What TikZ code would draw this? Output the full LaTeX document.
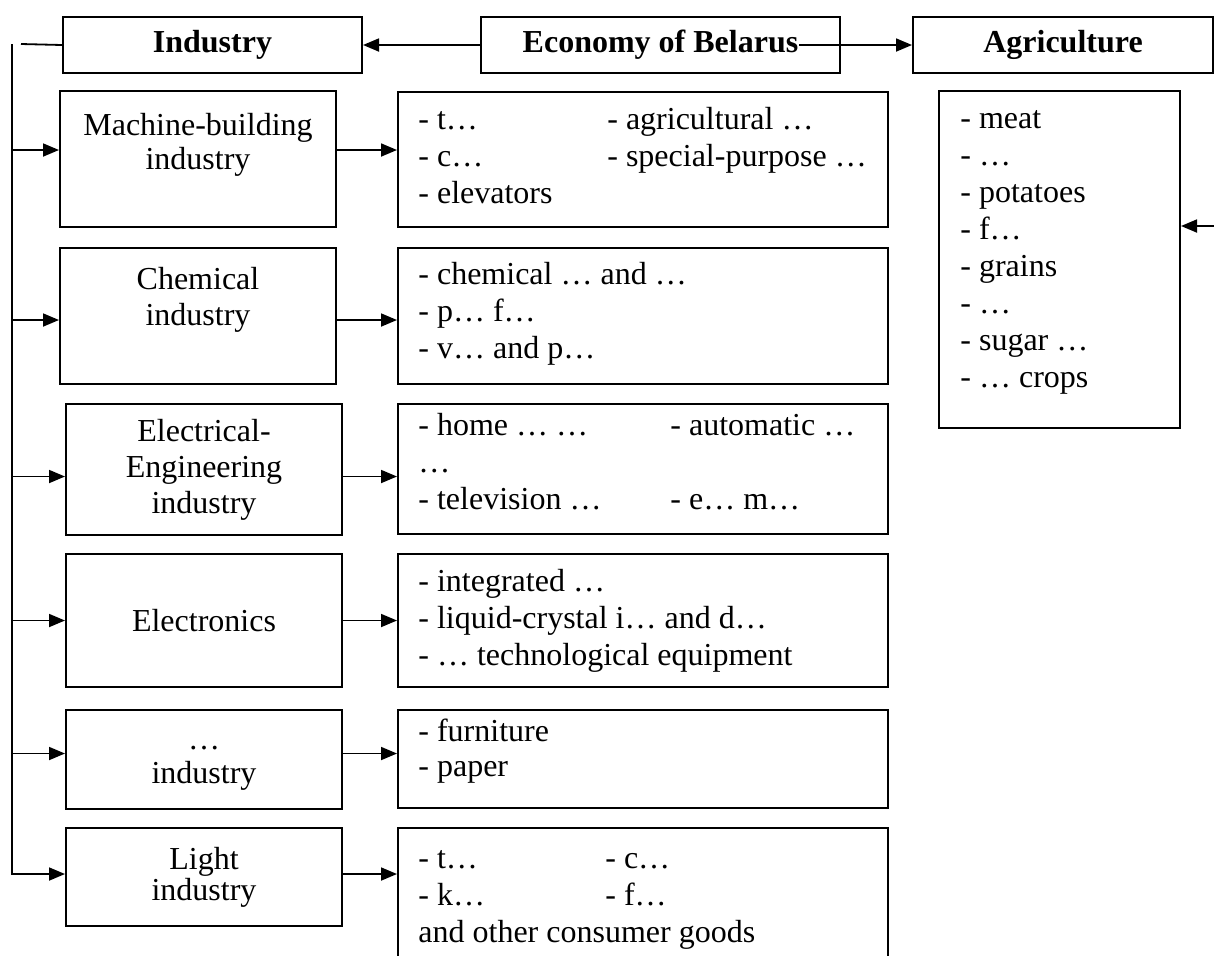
\documentclass[tikz,border=0pt]{standalone}
\usepackage{fontspec}
\setmainfont{Liberation Serif}
\usetikzlibrary{arrows.meta,positioning,calc}
\newcommand{\twocol}[2]{\makebox[#1][l]{#2}}
\tikzset{
  titleBox/.style={draw, line width=1pt, inner sep=0pt, anchor=north west, minimum height=28pt, font=\bfseries\fontsize{16}{18.5}\selectfont},
  branchBox/.style={draw, line width=1pt, inner sep=0pt, anchor=north west, minimum width=138pt, align=center, font=\fontsize{16}{17}\selectfont},
  listBox/.style={draw, line width=1pt, inner sep=0pt, anchor=north west},
  branchText/.style={anchor=north, inner sep=0pt, align=center, font=\fontsize{16}{17}\selectfont, execute at begin node=\strut},
  listText/.style={anchor=north west, inner sep=0pt, align=left, font=\fontsize{16}{18.5}\selectfont, execute at begin node=\strut},
  flowArrow/.style={-{Triangle[length=8pt,width=6.5pt]}, line width=0.9pt},
  flowLine/.style={line width=0.9pt}
}

\begin{document}
\begin{tikzpicture}[x=0.5pt,y=-0.5pt]
  \useasboundingbox (0,0) rectangle (1214,955);
  \clip (0,0) rectangle (1214,955);
  % top row
  \node[titleBox, minimum width=149.5pt] (ind) at (62,16) {Industry};
  \node[titleBox, minimum width=179.5pt] (econ) at (480,16) {Economy of Belarus};
  \node[titleBox, minimum width=150pt] (agri) at (912,16) {Agriculture};
  \draw[flowArrow] (econ.west) -- (ind.east);
  \draw[flowArrow] ([xshift=-21pt]econ.east) -- (agri.west);
  \coordinate (indTail) at (21,44);
  \coordinate (spine) at (12,44);
  \draw[flowLine] (ind.west) -- (indTail);

  % branches of industry
  \node[branchBox, minimum height=68pt] (mb) at (59,90) {};
  \node[branchText] (mbT) at ([yshift=-11.5pt]mb.north) {Machine-building\\industry};
  \node[branchBox, minimum height=68pt] (ch) at (59,247) {};
  \node[branchText, font=\fontsize{16}{18}\selectfont] (chT) at ([yshift=-10pt]ch.north) {Chemical\\industry};
  \node[branchBox, minimum height=65.5pt, font=\fontsize{16}{18}\selectfont] (ee) at (65,403) {Electrical-\\Engineering\\industry};
  \node[branchBox, minimum height=66.5pt] (el) at (65,553) {Electronics};
  \node[branchBox, minimum height=49.5pt, font=\fontsize{16}{15}\selectfont] (wd) at (65,709) {\strut…\\industry};
  \node[branchBox, minimum height=49pt, font=\fontsize{16}{15.5}\selectfont] (li) at (65,827) {Light\\industry};

  % products
  \node[listBox, minimum width=245pt, minimum height=67.5pt] (l1) at (397,91) {};
  \node[listText] (l1T) at ([xshift=10.5pt,yshift=-8pt]l1.north west)
    {\twocol{94.5pt}{- t…}- agricultural …\\\twocol{94.5pt}{- c…}- special-purpose …\\- elevators};
  \node[listBox, minimum width=245pt, minimum height=68pt] (l2) at (397,247) {};
  \node[listText] (l2T) at ([xshift=10.5pt,yshift=-7.5pt]l2.north west)
    {- chemical … and …\\- p… f…\\- v… and p…};
  \node[listBox, minimum width=245pt, minimum height=65pt] (l3) at (397,403) {};
  \node[listText] (l3T) at ([xshift=10.5pt,yshift=-5pt]l3.north west)
    {\twocol{126pt}{- home … …}- automatic …\\…\\\twocol{126pt}{- television …}- e… m…};
  \node[listBox, minimum width=245pt, minimum height=66.5pt] (l4) at (397,553) {};
  \node[listText] (l4T) at ([xshift=10.5pt,yshift=-8pt]l4.north west)
    {- integrated …\\- liquid-crystal i… and d…\\- … technological equipment};
  \node[listBox, minimum width=245pt, minimum height=49pt] (l5) at (397,709) {};
  \node[listText, font=\fontsize{16}{17.5}\selectfont] (l5T) at ([xshift=10.5pt,yshift=-5pt]l5.north west)
    {- furniture\\- paper};
  \node[listBox, minimum width=245pt, minimum height=75pt] (l6) at (397,827) {};
  \node[listText] (l6T) at ([xshift=10.5pt,yshift=-11.5pt]l6.north west)
    {\twocol{93.5pt}{- t…}- c…\\\twocol{93.5pt}{- k…}- f…\\and other consumer goods};

  % agriculture products
  \node[listBox, minimum width=120.5pt, minimum height=168.5pt] (ag) at (938,90) {};
  \node[listText] (agT) at ([xshift=11pt,yshift=-10pt]ag.north west)
    {- meat\\- …\\- potatoes\\- f…\\- grains\\- …\\- sugar …\\- … crops};
  \coordinate (agTail) at (1214,226);
  \draw[flowArrow] (agTail) -- (agTail -| ag.east);

  % connectors
  \draw[flowArrow] ([yshift=4.5pt]spine |- mb.west) -- ([yshift=4.5pt]mb.west);
  \draw[flowArrow] ([yshift=-2pt]spine |- ch.west) -- ([yshift=-2pt]ch.west);
  \draw[flowArrow] ([yshift=-3.5pt]spine |- ee.west) -- ([yshift=-3.5pt]ee.west);
  \draw[flowArrow] (spine |- el.west) -- (el.west);
  \draw[flowArrow] ([yshift=3pt]spine |- wd.west) -- ([yshift=3pt]wd.west);
  \draw[flowArrow] (spine) |- ([yshift=1.5pt]li.west);
  \draw[flowArrow] ([yshift=4.5pt]mb.east) -- ([yshift=4.5pt]mb.east -| l1.west);
  \draw[flowArrow] ([yshift=-2pt]ch.east) -- ([yshift=-2pt]ch.east -| l2.west);
  \draw[flowArrow] ([yshift=-3.5pt]ee.east) -- ([yshift=-3.5pt]ee.east -| l3.west);
  \draw[flowArrow] (el.east) -- (el.east -| l4.west);
  \draw[flowArrow] ([yshift=3pt]wd.east) -- ([yshift=3pt]wd.east -| l5.west);
  \draw[flowArrow] ([yshift=1.5pt]li.east) -- ([yshift=1.5pt]li.east -| l6.west);
\end{tikzpicture}
\end{document}
